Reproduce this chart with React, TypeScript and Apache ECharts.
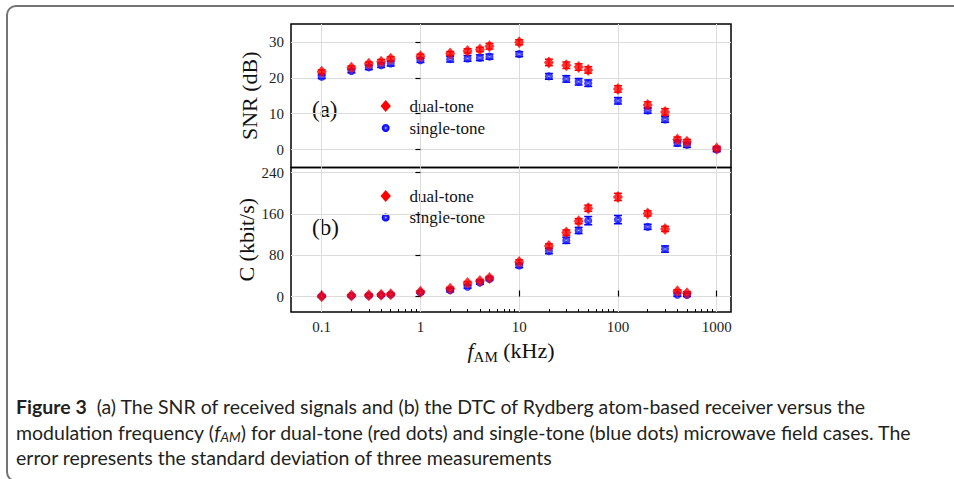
import React, { useEffect, useRef } from "react";
import * as echarts from "echarts";

// ---------- data ----------
const freqA = [0.1, 0.2, 0.3, 0.4, 0.5, 1, 2, 3, 4, 5, 10, 20, 30, 40, 50, 100, 200, 300, 400, 500, 1000];
const snrDual = [21.7, 22.8, 23.9, 24.5, 25.3, 26.0, 26.8, 27.5, 27.9, 28.8, 29.9, 24.3, 23.5, 23.0, 22.2, 16.9, 12.4, 10.5, 2.8, 2.2, 0.3];
const snrDualErr = [0.5, 0.5, 0.5, 0.6, 0.6, 0.6, 0.5, 0.6, 0.6, 0.8, 0.7, 0.9, 0.9, 0.9, 0.9, 0.9, 0.9, 0.9, 0.7, 0.6, 0.6];
const snrSingle = [20.3, 21.9, 22.9, 23.5, 24.0, 24.9, 25.2, 25.4, 25.6, 25.9, 26.6, 20.4, 19.7, 18.9, 18.5, 13.6, 10.9, 8.4, 1.8, 1.3, 0.0];
const snrSingleErr = [0.5, 0.5, 0.6, 0.6, 0.7, 0.6, 0.8, 0.8, 0.8, 0.7, 0.7, 0.8, 0.9, 0.9, 0.9, 0.9, 0.8, 0.8, 0.8, 0.7, 0.6];

const freqB = [0.1, 0.2, 0.3, 0.4, 0.5, 1, 2, 3, 4, 5, 10, 20, 30, 40, 50, 100, 200, 300, 400, 500];
const capDual = [0.6, 2, 2.6, 3.3, 4.5, 9, 15, 26, 30, 36, 67, 98, 124, 146, 171, 193, 161, 131, 10, 6.5];
const capDualErr = [2, 2, 2, 2, 2, 2, 3, 3, 3, 3, 4, 4, 5, 5, 6, 7, 5, 5, 3, 3];
const capSingle = [0.5, 1.5, 2, 3, 4, 8, 12, 19, 27, 34, 60, 88, 109, 128, 147, 149, 135, 92, 3.5, 3];
const capSingleErr = [2, 2, 2, 2, 2, 2, 3, 3, 3, 3, 4, 5, 6, 6, 8, 8, 5, 6, 3, 3];

const xTickValues = [0.1, 1, 10, 100, 1000];
const xTickLabels = ["0.1", "1", "10", "100", "1000"];
const xMinorTickValues = [
  0.2, 0.3, 0.4, 0.5, 0.6, 0.7, 0.8, 0.9,
  2, 3, 4, 5, 6, 7, 8, 9,
  20, 30, 40, 50, 60, 70, 80, 90,
  200, 300, 400, 500, 600, 700, 800, 900,
];
const snrTicks = [0, 10, 20, 30];
const capTicks = [0, 80, 160, 240];

const seriesNames = ["dual-tone", "single-tone"];

// ---------- styling ----------
const RED = "#ff0000";
const BLUE = "#0000ff";
const SERIF = "'Liberation Serif', 'Times New Roman', serif";
const SANS = "Lato, 'Open Sans', sans-serif";
const GRIDLINE = "#dcdcdc";
const X_MIN = 0.0489; // kHz, left frame edge
const X_MAX = 1396; // kHz, right frame edge
const CAP_FONT = 19.5;

const lg = (v: number) => Math.log10(v);

function pts(xs: number[], ys: number[], es?: number[]) {
  return xs.map((x, i) => (es ? [lg(x), ys[i], es[i]] : [lg(x), ys[i]]));
}

function errRender(color: string) {
  return (params: any, api: any) => {
    const x = api.value(0);
    const y = api.value(1);
    const e = api.value(2);
    const top = api.coord([x, y + e]);
    const bot = api.coord([x, y - e]);
    const hw = 4;
    const st = { stroke: color, lineWidth: 1.5 };
    return {
      type: "group",
      children: [
        { type: "line", shape: { x1: top[0], y1: top[1], x2: bot[0], y2: bot[1] }, style: st },
        { type: "line", shape: { x1: top[0] - hw, y1: top[1], x2: top[0] + hw, y2: top[1] }, style: st },
        { type: "line", shape: { x1: bot[0] - hw, y1: bot[1], x2: bot[0] + hw, y2: bot[1] }, style: st },
      ],
    };
  };
}

const blueBall = () =>
  new echarts.graphic.RadialGradient(0.5, 0.5, 0.5, [
    { offset: 0, color: "#ffffff" },
    { offset: 0.3, color: "#3030ff" },
    { offset: 1, color: BLUE },
  ]);

function fmtX(v: number) {
  let best = 0;
  xTickValues.forEach((t, i) => {
    if (Math.abs(lg(t) - v) < Math.abs(lg(xTickValues[best]) - v)) best = i;
  });
  return xTickLabels[best];
}

function legendGraphic(cy1: number, cy2: number) {
  const cx = 385.7;
  return [
    {
      type: "polygon",
      shape: { points: [[cx, cy1 - 6], [cx + 5.2, cy1], [cx, cy1 + 6], [cx - 5.2, cy1]] },
      style: { fill: RED },
    },
    {
      type: "text",
      x: 409.5,
      y: cy1,
      style: { text: seriesNames[0], font: `17px ${SERIF}`, fill: "#111", verticalAlign: "middle" },
    },
    {
      type: "circle",
      shape: { cx, cy: cy2, r: 4 },
      style: { fill: blueBall() },
    },
    {
      type: "text",
      x: 409.5,
      y: cy2,
      style: { text: seriesNames[1], font: `17px ${SERIF}`, fill: "#111", verticalAlign: "middle" },
    },
  ];
}

export default function App() {
  const ref = useRef<HTMLDivElement>(null);

  useEffect(() => {
    if (!ref.current) return;
    const chart = echarts.init(ref.current, undefined, { renderer: "svg" });

    const commonX = {
      type: "value",
      min: lg(X_MIN),
      max: lg(X_MAX),
      axisLine: { show: false },
    };

    const yLabel = { fontFamily: SERIF, fontSize: 15, color: "#222", margin: 7 };
    const yName = { fontFamily: SERIF, fontSize: 22, color: "#111" };

    const option: any = {
      animation: false,
      backgroundColor: "#ffffff",
      grid: [
        { left: 291, top: 24, width: 440, height: 143.5, show: true, borderColor: "#000", borderWidth: 1.5, backgroundColor: "transparent" },
        { left: 291, top: 167.5, width: 440, height: 144.5, show: true, borderColor: "#000", borderWidth: 1.5, backgroundColor: "transparent" },
      ],
      xAxis: [
        {
          ...commonX,
          gridIndex: 0,
          axisTick: { show: false, customValues: xTickValues.map(lg) },
          axisLabel: { show: false },
          splitLine: { show: true, lineStyle: { color: GRIDLINE, width: 1 } },
        },
        {
          ...commonX,
          gridIndex: 1,
          position: "bottom",
          axisTick: { show: true, inside: true, length: 6, customValues: xTickValues.map(lg), lineStyle: { color: "#000", width: 1.2 } },
          axisLabel: {
            show: true,
            customValues: xTickValues.map(lg),
            formatter: (v: number) => fmtX(v),
            fontFamily: SERIF,
            fontSize: 15,
            color: "#222",
            margin: 7,
          },
          splitLine: { show: true, lineStyle: { color: GRIDLINE, width: 1 } },
          name: "{i|f}{s|AM}{n| (kHz)}",
          nameLocation: "middle",
          nameGap: 24,
          nameTextStyle: {
            fontFamily: SERIF,
            fontSize: 22,
            color: "#111",
            rich: {
              i: { fontFamily: SERIF, fontSize: 22, fontStyle: "italic", color: "#111" },
              s: { fontFamily: SERIF, fontSize: 15, color: "#111", verticalAlign: "top", padding: [13, 0, 0, 0] },
              n: { fontFamily: SERIF, fontSize: 22, color: "#111" },
            },
          },
        },
        {
          ...commonX,
          gridIndex: 1,
          position: "bottom",
          offset: 0,
          axisTick: { show: true, inside: true, length: 3, customValues: xMinorTickValues.map(lg), lineStyle: { color: "#000", width: 1 } },
          axisLabel: { show: false },
          splitLine: { show: false },
        },
      ],
      yAxis: [
        {
          gridIndex: 0,
          type: "value",
          min: -5,
          max: 35,
          axisLine: { show: false },
          axisTick: { show: true, inside: false, length: 5, customValues: snrTicks, lineStyle: { color: "#000", width: 1.2 } },
          axisLabel: { ...yLabel, customValues: snrTicks },
          splitLine: { show: true, lineStyle: { color: GRIDLINE, width: 1 } },
          name: "SNR (dB)",
          nameLocation: "middle",
          nameGap: 31,
          nameTextStyle: yName,
        },
        {
          gridIndex: 1,
          type: "value",
          min: -30,
          max: 250,
          axisLine: { show: false },
          axisTick: { show: true, inside: false, length: 5, customValues: capTicks, lineStyle: { color: "#000", width: 1.2 } },
          axisLabel: { ...yLabel, customValues: capTicks },
          splitLine: { show: true, lineStyle: { color: GRIDLINE, width: 1 } },
          name: "C (kbit/s)",
          nameLocation: "middle",
          nameGap: 33,
          nameTextStyle: yName,
        },
      ],
      series: [
        // panel (a)
        {
          type: "custom", name: seriesNames[1] + " err", xAxisIndex: 0, yAxisIndex: 0,
          renderItem: errRender(BLUE), encode: { x: 0, y: 1 }, data: pts(freqA, snrSingle, snrSingleErr),
        },
        {
          type: "scatter", name: seriesNames[1], xAxisIndex: 0, yAxisIndex: 0,
          symbol: "circle", symbolSize: 8, itemStyle: { color: blueBall() }, data: pts(freqA, snrSingle),
        },
        {
          type: "custom", name: seriesNames[0] + " err", xAxisIndex: 0, yAxisIndex: 0,
          renderItem: errRender(RED), encode: { x: 0, y: 1 }, data: pts(freqA, snrDual, snrDualErr),
        },
        {
          type: "scatter", name: seriesNames[0], xAxisIndex: 0, yAxisIndex: 0,
          symbol: "diamond", symbolSize: [10, 12], itemStyle: { color: RED }, data: pts(freqA, snrDual),
        },
        // panel (b)
        {
          type: "custom", name: seriesNames[1] + " err b", xAxisIndex: 1, yAxisIndex: 1,
          renderItem: errRender(BLUE), encode: { x: 0, y: 1 }, data: pts(freqB, capSingle, capSingleErr),
        },
        {
          type: "scatter", name: seriesNames[1] + " b", xAxisIndex: 1, yAxisIndex: 1,
          symbol: "circle", symbolSize: 8, itemStyle: { color: blueBall() }, data: pts(freqB, capSingle),
        },
        {
          type: "custom", name: seriesNames[0] + " err b", xAxisIndex: 1, yAxisIndex: 1,
          renderItem: errRender(RED), encode: { x: 0, y: 1 }, data: pts(freqB, capDual, capDualErr),
        },
        {
          type: "scatter", name: seriesNames[0] + " b", xAxisIndex: 1, yAxisIndex: 1,
          symbol: "diamond", symbolSize: [10, 12], itemStyle: { color: RED }, data: pts(freqB, capDual),
        },
      ],
      graphic: [
        // outer frame of the figure box
        {
          type: "rect",
          shape: { x: 7, y: 6, width: 1000, height: 475, r: 9 },
          style: { fill: "none", stroke: "#747474", lineWidth: 2 },
          silent: true,
        },
        // panel letters
        { type: "text", x: 312, y: 109, style: { text: "(a)", font: `23px ${SERIF}`, fill: "#111", verticalAlign: "middle" } },
        { type: "text", x: 312, y: 227, style: { text: "(b)", font: `23px ${SERIF}`, fill: "#111", verticalAlign: "middle" } },
        ...legendGraphic(106, 128),
        ...legendGraphic(196, 217.5),
        // caption
        {
          type: "text",
          x: 16,
          y: 406,
          style: {
            text: "{b|Figure 3}  (a) The SNR of received signals and (b) the DTC of Rydberg atom-based receiver versus the",
            font: `${CAP_FONT}px ${SANS}`,
            fill: "#231f20",
            verticalAlign: "middle",
            rich: { b: { fontFamily: SANS, fontSize: CAP_FONT, fontWeight: "bold", fill: "#231f20" } },
          },
        },
        {
          type: "text",
          x: 16,
          y: 432,
          style: {
            text: "modulation frequency ({i|f}{s|AM}) for dual-tone (red dots) and single-tone (blue dots) microwave field cases. The",
            font: `${CAP_FONT}px ${SANS}`,
            fill: "#231f20",
            verticalAlign: "middle",
            rich: {
              i: { fontFamily: SANS, fontSize: CAP_FONT, fontStyle: "italic", fill: "#231f20" },
              s: { fontFamily: SANS, fontSize: 13.5, fontStyle: "italic", fill: "#231f20", verticalAlign: "top", padding: [10, 0, 0, 0] },
            },
          },
        },
        {
          type: "text",
          x: 16,
          y: 457,
          style: {
            text: "error represents the standard deviation of three measurements",
            font: `${CAP_FONT}px ${SANS}`,
            fill: "#231f20",
            verticalAlign: "middle",
          },
        },
      ],
    };

    chart.setOption(option);
    return () => chart.dispose();
  }, []);

  return (
    <div
      ref={ref}
      style={{ position: "fixed", left: 0, top: 0, width: 954, height: 479, background: "#fff" }}
    />
  );
}
